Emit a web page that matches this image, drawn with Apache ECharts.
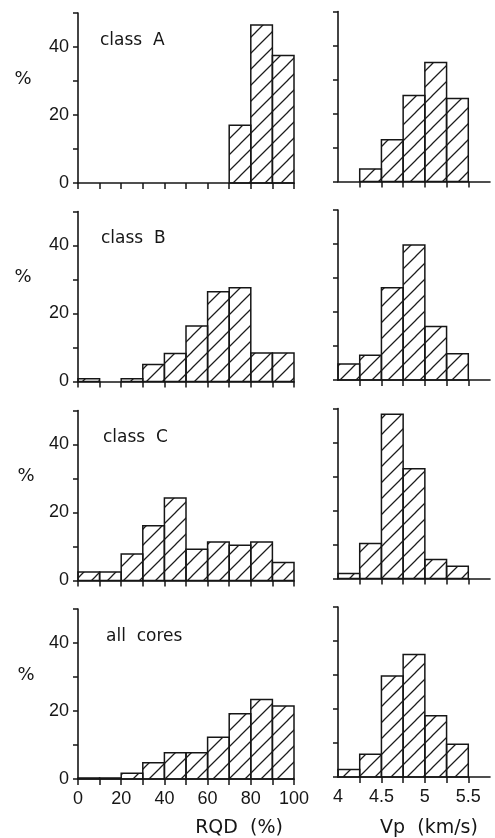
<!DOCTYPE html>
<html>
<head>
<meta charset="utf-8">
<script src="https://cdn.jsdelivr.net/npm/echarts@6/dist/echarts.min.js"></script>
<style>
  html, body { margin: 0; padding: 0; background: #fff; }
  #chart { width: 495px; height: 838px; }
</style>
</head>
<body>
<div id="chart"></div>
<script>
// Panel titles, top to bottom
const panelNames = ['class  A', 'class  B', 'class  C', 'all  cores'];

// Bin edges
const rqdEdges = [0, 10, 20, 30, 40, 50, 60, 70, 80, 90, 100];
const vpEdges = [4.0, 4.25, 4.5, 4.75, 5.0, 5.25, 5.5];

// RQD frequency (%) per bin
const rqdClassA = [0, 0, 0, 0, 0, 0, 0, 17, 46.5, 37.5];
const rqdClassB = [0.8, 0, 0.8, 5, 8.2, 16.3, 26.4, 27.6, 8.4, 8.4];
const rqdClassC = [2.5, 2.5, 7.8, 16.1, 24.3, 9.2, 11.3, 10.4, 11.3, 5.3];
const rqdAll = [0.3, 0.3, 1.7, 4.8, 7.7, 7.7, 12.3, 19.2, 23.4, 21.5];

// Vp frequency (%) per bin
const vpClassA = [0, 3.7, 12.3, 25.3, 35, 24.4];
const vpClassB = [4.7, 7.3, 27.1, 39.7, 15.7, 7.7];
const vpClassC = [1.5, 10.3, 48.3, 32.3, 5.6, 3.6];
const vpAll = [2.2, 6.7, 29.7, 36, 18, 9.6];

// Ticks and labels
const yTicks = [0, 10, 20, 30, 40, 50];
const yLabels = [0, 20, 40];
const rqdTicks = [0, 10, 20, 30, 40, 50, 60, 70, 80, 90, 100];
const rqdLabels = [0, 20, 40, 60, 80, 100];
const vpTicks = [4.25, 4.5, 4.75, 5.0, 5.25, 5.5];
const vpLabels = [4, 4.5, 5, 5.5];

const rqdRows = [rqdClassA, rqdClassB, rqdClassC, rqdAll];
const vpRows = [vpClassA, vpClassB, vpClassC, vpAll];

// Layout
const leftBase = [183, 381.5, 580.5, 779];
const rightBase = [181.5, 380, 578.5, 777];
const plotH = 170;
const LEFT_X = 78, LEFT_W = 216;
const RIGHT_X = 338, RIGHT_W = 152;
const nameX = [100, 101, 103, 106];
const pctX = [23, 23, 26, 26];

// Diagonal hatch tile
const tile = document.createElement('canvas');
tile.width = 16; tile.height = 16;
const tc = tile.getContext('2d');
tc.strokeStyle = '#1c1c1c';
tc.lineWidth = 1.25;
tc.beginPath();
tc.moveTo(-2, 18); tc.lineTo(18, -2);
tc.moveTo(-6, 6); tc.lineTo(6, -6);
tc.moveTo(10, 22); tc.lineTo(22, 10);
tc.stroke();
const hatch = { image: tile, repeat: 'repeat' };

const INK = '#161616';
const FONT = 'DejaVu Sans';
const NUMFONT = 'Liberation Sans';

function binData(edges, values) {
  return values.map((v, i) => [edges[i], edges[i + 1], v]);
}

function renderBin(params, api) {
  const v = api.value(2);
  if (!v) return null;
  const p0 = api.coord([api.value(0), v]);
  const p1 = api.coord([api.value(1), 0]);
  return {
    type: 'rect',
    shape: { x: p0[0], y: p0[1], width: p1[0] - p0[0], height: p1[1] - p0[1] },
    style: { fill: hatch, stroke: INK, lineWidth: 1.5 }
  };
}

const grid = [], xAxis = [], yAxis = [], series = [], graphic = [];

for (let r = 0; r < 4; r++) {
  const last = r === 3;
  // RQD panel
  grid.push({ left: LEFT_X, top: leftBase[r] - plotH, width: LEFT_W, height: plotH });
  // Vp panel
  grid.push({ left: RIGHT_X, top: rightBase[r] - plotH, width: RIGHT_W, height: plotH });

  const gL = r * 2, gR = r * 2 + 1;
  const axisLine = { show: true, lineStyle: { color: INK, width: 1.6 } };

  xAxis.push({
    gridIndex: gL, type: 'value', min: 0, max: 100,
    axisLine, splitLine: { show: false },
    axisTick: { show: true, customValues: rqdTicks, length: 6, lineStyle: { color: INK, width: 1.5 } },
    axisLabel: { show: last, customValues: rqdLabels, margin: 11, color: INK, fontSize: 18, fontFamily: NUMFONT }
  });
  xAxis.push({
    gridIndex: gR, type: 'value', min: 4, max: 5.75,
    axisLine, splitLine: { show: false },
    axisTick: { show: true, customValues: vpTicks, length: 6, lineStyle: { color: INK, width: 1.5 } },
    axisLabel: { show: last, customValues: vpLabels, margin: 11, color: INK, fontSize: 18, fontFamily: NUMFONT }
  });
  yAxis.push({
    gridIndex: gL, type: 'value', min: 0, max: 50,
    axisLine, splitLine: { show: false },
    axisTick: { show: true, customValues: yTicks, length: 5, lineStyle: { color: INK, width: 1.5 } },
    axisLabel: { show: true, customValues: yLabels, margin: 9, color: INK, fontSize: 18, fontFamily: NUMFONT }
  });
  yAxis.push({
    gridIndex: gR, type: 'value', min: 0, max: 50,
    axisLine, splitLine: { show: false },
    axisTick: { show: true, customValues: yTicks, length: 5, lineStyle: { color: INK, width: 1.5 } },
    axisLabel: { show: false }
  });

  series.push({
    type: 'custom', xAxisIndex: gL, yAxisIndex: gL,
    data: binData(rqdEdges, rqdRows[r]),
    encode: { x: [0, 1], y: 2 },
    renderItem: renderBin, silent: true
  });
  series.push({
    type: 'custom', xAxisIndex: gR, yAxisIndex: gR,
    data: binData(vpEdges, vpRows[r]),
    encode: { x: [0, 1], y: 2 },
    renderItem: renderBin, silent: true
  });

  graphic.push({
    type: 'text', left: nameX[r], top: leftBase[r] - 141 - 10,
    style: { text: panelNames[r], fill: INK, font: '17px "' + FONT + '"' }
  });
  graphic.push({
    type: 'text', x: pctX[r], y: leftBase[r] - 104,
    style: { text: '%', fill: INK, font: '18px "' + FONT + '"', align: 'center', verticalAlign: 'middle' }
  });
}

graphic.push({
  type: 'text', x: 239, y: 828,
  style: { text: 'RQD  (%)', fill: INK, font: '19px "' + FONT + '"', align: 'center', verticalAlign: 'middle' }
});
graphic.push({
  type: 'text', x: 429, y: 828,
  style: { text: 'Vp  (km/s)', fill: INK, font: '19px "' + FONT + '"', align: 'center', verticalAlign: 'middle' }
});

const chart = echarts.init(document.getElementById('chart'), null, { renderer: 'canvas' });
chart.setOption({
  backgroundColor: '#ffffff',
  animation: false,
  grid, xAxis, yAxis, series, graphic
});
</script>
</body>
</html>
